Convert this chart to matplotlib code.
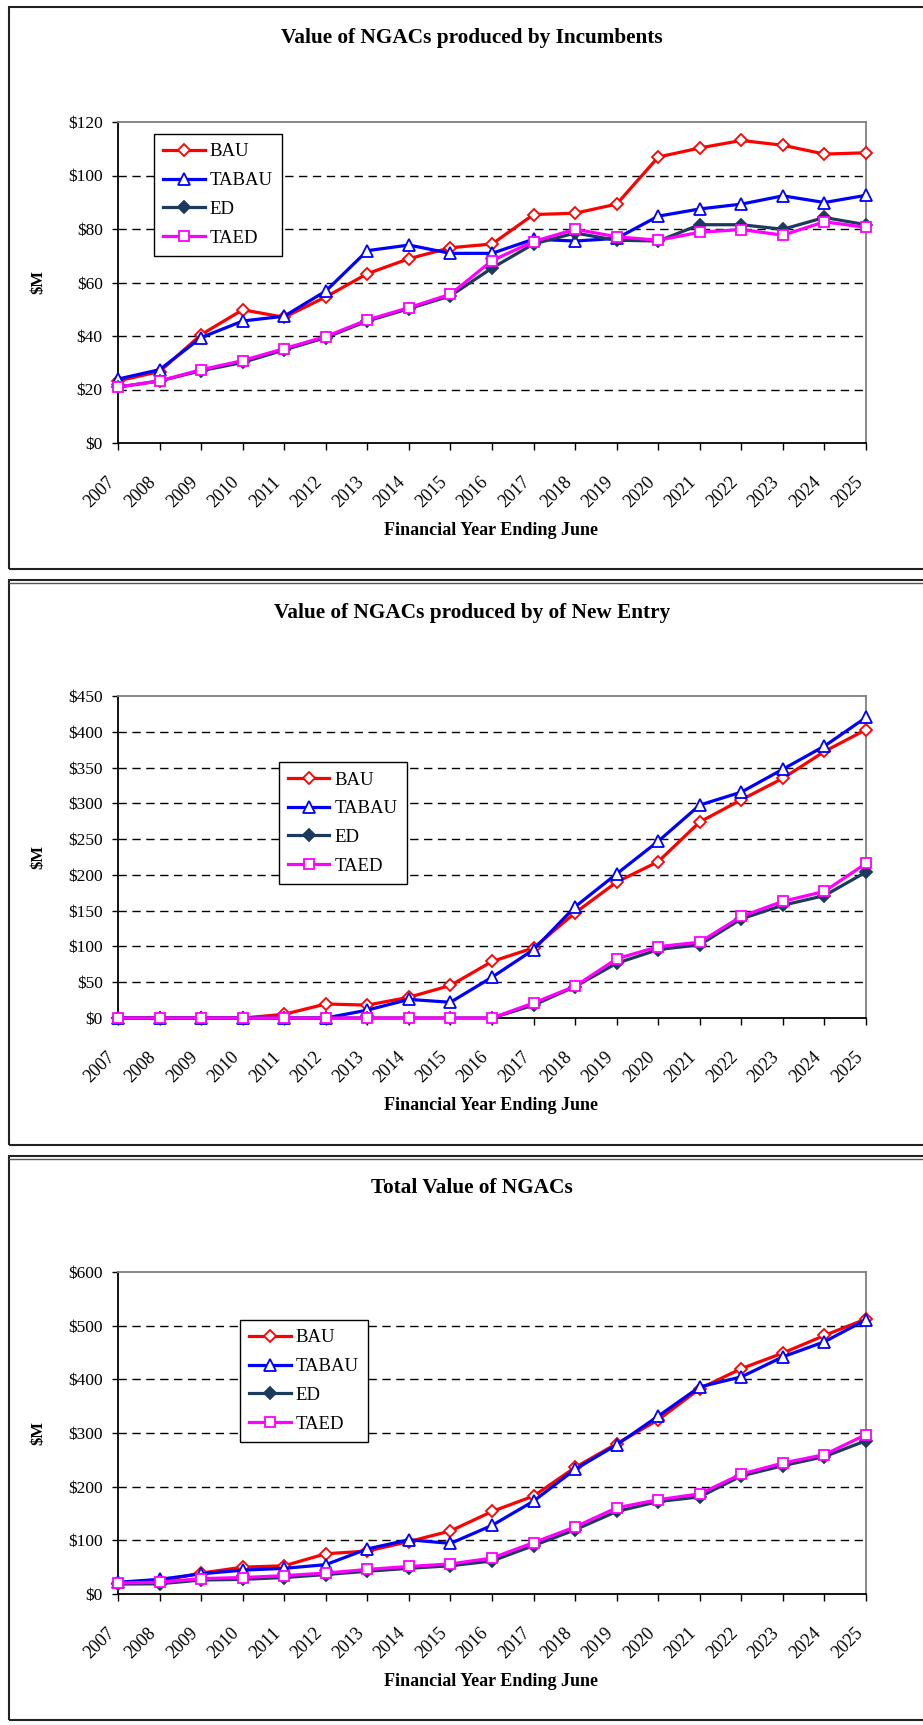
import numpy as np
import matplotlib
matplotlib.use("Agg")
import matplotlib.pyplot as plt
from matplotlib.transforms import ScaledTranslation
from matplotlib.lines import Line2D
from matplotlib.patches import Rectangle

plt.rcParams['font.family'] = ['Liberation Serif', 'DejaVu Serif']

# data
years = list(range(2007, 2026))
series_names = ['BAU', 'TABAU', 'ED', 'TAED']

inc_bau = [23.2, 26.7, 40.5, 49.8, 47.0, 54.6, 63.3, 68.9, 73.0, 74.4, 85.4, 85.9, 89.3, 106.9, 110.3, 113.1, 111.3, 108.0, 108.5]
inc_tabau = [23.9, 27.4, 39.4, 45.6, 47.4, 56.8, 71.9, 74.0, 70.9, 70.9, 76.2, 75.5, 76.5, 84.8, 87.5, 89.3, 92.4, 89.9, 92.6]
inc_ed = [20.9, 23.2, 27.0, 30.1, 34.8, 39.4, 45.6, 50.2, 55.0, 65.4, 74.4, 78.5, 75.8, 75.5, 81.6, 81.6, 79.9, 84.3, 81.6]
inc_taed = [20.9, 23.2, 27.4, 30.8, 35.3, 39.8, 46.0, 50.6, 55.6, 68.2, 75.3, 79.9, 77.1, 75.8, 78.8, 79.8, 77.7, 82.7, 80.6]

new_bau = [0, 0, 0, 0, 5.2, 19.6, 18.0, 29.0, 45.5, 79.0, 98.0, 147.0, 190.0, 218.5, 274.0, 305.0, 335.0, 372.5, 403.0]
new_tabau = [0, 0, 0, 0, 0, 0, 11.0, 26.0, 22.0, 57.0, 95.5, 155.5, 201.5, 247.0, 297.6, 315.7, 347.7, 380.0, 420.0]
new_ed = [0, 0, 0, 0, 0, 0, 0, 0, 0, 0, 18.0, 44.0, 76.5, 95.6, 102.3, 138.5, 157.6, 171.0, 204.0]
new_taed = [0, 0, 0, 0, 0, 0, 0, 0, 0, 0, 21.0, 44.4, 82.7, 99.7, 106.0, 142.0, 163.0, 177.0, 216.0]

tot_bau = [20.5, 24.0, 39.0, 50.0, 52.6, 75.0, 80.0, 97.7, 117.5, 153.8, 182.5, 235.8, 280.0, 324.6, 382.7, 420.0, 449.0, 481.8, 512.5]
tot_tabau = [21.9, 27.3, 37.6, 44.4, 47.8, 54.7, 84.0, 101.0, 94.3, 127.8, 173.0, 232.3, 278.0, 331.4, 386.0, 404.6, 442.0, 470.0, 511.0]
tot_ed = [18.5, 19.0, 26.0, 27.3, 30.7, 36.2, 42.4, 47.8, 52.6, 61.5, 90.2, 119.6, 153.8, 172.2, 181.0, 220.0, 239.0, 256.0, 285.6]
tot_taed = [20.5, 21.9, 28.7, 30.7, 34.2, 39.0, 45.8, 51.3, 56.0, 67.0, 95.7, 125.0, 160.6, 175.7, 186.6, 223.5, 244.0, 259.7, 297.0]

titles = ['Value of NGACs produced by Incumbents',
          'Value of NGACs produced by of New Entry',
          'Total Value of NGACs']
panels = [[inc_bau, inc_tabau, inc_ed, inc_taed],
          [new_bau, new_tabau, new_ed, new_taed],
          [tot_bau, tot_tabau, tot_ed, tot_taed]]
y_max = [120, 450, 600]
y_step = [20, 50, 100]

# styles
styles = [dict(color='#ff0000', marker='D', mfc='white', mec='#ff0000', ms=6.5),
          dict(color='#0000ff', marker='^', mfc='white', mec='#0000ff', ms=8),
          dict(color='#1c3a5e', marker='D', mfc='#1c3a5e', mec='#1c3a5e', ms=6),
          dict(color='#ff00ff', marker='s', mfc='white', mec='#ff00ff', ms=7)]

W, H = 923, 1725
fig = plt.figure(figsize=(W / 100, H / 100), dpi=100)

# pixel layout
ax_top = [122, 696, 1272]
ax_bot = [443, 1018, 1594]
frame_top = [7, 580, 1156]
frame_bot = [569, 1145, 1720]
title_y = [38, 613, 1188]
xlab_y = [530, 1105, 1681]
leg_pos = [(0.048, 0.963), (0.215, 0.795), (0.163, 0.851)]

def fy(p):
    return 1 - p / H

for i in range(3):
    # panel frame
    fig.patches.append(Rectangle((9 / W, fy(frame_bot[i])), 1.0, (frame_bot[i] - frame_top[i]) / H,
                                 transform=fig.transFigure, fill=False, ec='#222222', lw=1.5))
    if i > 0:
        fig.lines.append(Line2D([9 / W, 1], [fy(frame_top[i] + 3)] * 2, transform=fig.transFigure,
                                color='#555555', lw=1.0))

    ax = fig.add_axes([118 / W, fy(ax_bot[i]), 748 / W, (ax_bot[i] - ax_top[i]) / H])
    for j, name in enumerate(series_names):
        s = styles[j]
        ax.plot(years, panels[i][j], color=s['color'], lw=2.3, marker=s['marker'],
                markerfacecolor=s['mfc'], markeredgecolor=s['mec'], markersize=s['ms'],
                markeredgewidth=1.3, label=name, clip_on=False, zorder=3 + j)

    ax.set_xlim(2007, 2025)
    ax.set_ylim(0, y_max[i])
    ticks = np.arange(0, y_max[i] + 1, y_step[i])
    ax.set_yticks(ticks)
    ax.set_yticklabels(['$%d' % t for t in ticks])
    for t in ticks[1:-1]:
        ax.axhline(t, color='black', lw=1.0, ls=(0, (6, 4)), zorder=1)
    ax.set_xticks(years)
    ax.set_xticklabels([str(y) for y in years], rotation=45, ha='right', va='top')
    for lab in ax.get_xticklabels():
        lab.set_transform(lab.get_transform() + ScaledTranslation(-11 / 100, 0, fig.dpi_scale_trans))

    ax.tick_params(axis='y', direction='out', length=4, width=1, pad=7, labelsize=12.5)
    ax.tick_params(axis='x', direction='out', length=5, width=1, pad=17, labelsize=13)
    ax.spines['left'].set_color('black')
    ax.spines['bottom'].set_color('black')
    ax.spines['left'].set_linewidth(1.3)
    ax.spines['bottom'].set_linewidth(1.3)
    ax.spines['top'].set_color('#808080')
    ax.spines['right'].set_color('#808080')
    ax.spines['top'].set_linewidth(1.3)
    ax.spines['right'].set_linewidth(1.3)

    leg = ax.legend(loc='upper left', bbox_to_anchor=leg_pos[i], borderaxespad=0,
                    fancybox=False, shadow=False, framealpha=1, edgecolor='black',
                    fontsize=13.5, handlelength=2.2, labelspacing=0.62, borderpad=0.5,
                    handletextpad=0.25)
    leg.get_frame().set_linewidth(1.0)
    leg.set_zorder(10)

    fig.text(472 / W, fy(title_y[i]), titles[i], ha='center', va='center',
             fontsize=15.3, fontweight='bold')
    fig.text(491 / W, fy(xlab_y[i]), 'Financial Year Ending June', ha='center', va='center',
             fontsize=13, fontweight='bold')
    fig.text(38 / W, fy((ax_top[i] + ax_bot[i]) / 2), '$M', ha='center', va='center',
             rotation=90, fontsize=12, fontweight='bold')

fig.savefig('out.png', dpi=100)
